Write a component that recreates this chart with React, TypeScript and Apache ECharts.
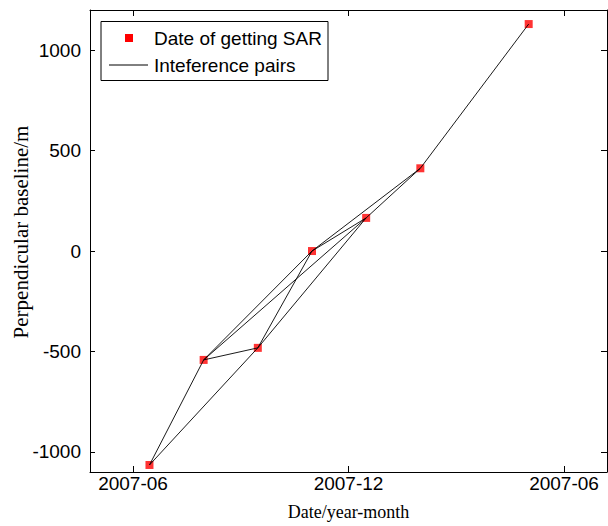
import React, { useEffect, useRef } from 'react';
import * as echarts from 'echarts';

// SAR acquisition dates and perpendicular baselines (m)
const acquisitionDates = ['2007-06-15', '2007-07-31', '2007-09-15', '2007-10-31', '2007-12-16', '2008-01-31', '2008-05-02'];
const perpendicularBaselines = [-1065, -542, -482, 0, 165, 412, 1130];
// interference pairs: indices into the acquisitions
const interferencePairs = [
  [0, 1], [0, 2], [1, 2], [1, 3], [1, 4], [2, 3], [2, 4], [3, 4], [3, 5], [4, 5], [5, 6],
];
const xTickDates = ['2007-06-01', '2007-12-01', '2008-06-01'];
const xTickLabels = ['2007-06', '2007-12', '2007-06'];
const yTickValues = [-1000, -500, 0, 500, 1000];
const xRange = ['2007-04-25T12:00:00Z', '2008-07-07T12:00:00Z'];
const yRange = [-1100, 1200];
const legendNames = ['Date of getting SAR', 'Inteference pairs'];
const xAxisTitle = 'Date/year-month';
const yAxisTitle = 'Perpendicular baseline/m';

const t = (s: string) => Date.parse(s);

export default function App() {
  const ref = useRef<HTMLDivElement>(null);
  useEffect(() => {
    if (!ref.current) return;
    const chart = echarts.init(ref.current, null, { renderer: 'svg' });
    const xTickVals = xTickDates.map(t);
    const pts = acquisitionDates.map((d, i) => [t(d), perpendicularBaselines[i]]);
    const sans = '"Liberation Sans", Arial, Helvetica, sans-serif';
    const serif = '"Liberation Serif", "Times New Roman", serif';
    const xMin = t(xRange[0]);
    const xMax = t(xRange[1]);
    const axisCommon = {
      axisLine: { show: true, onZero: false, lineStyle: { color: '#000', width: 1 } },
      splitLine: { show: false },
    };
    chart.setOption({
      animation: false,
      backgroundColor: '#fff',
      grid: { left: 90, right: 1, top: 10, bottom: 48, containLabel: false },
      xAxis: [
        {
          type: 'value',
          min: xMin,
          max: xMax,
          position: 'bottom',
          ...axisCommon,
          axisTick: { show: true, inside: true, length: 6, customValues: xTickVals, lineStyle: { color: '#000' } },
          axisLabel: {
            show: true,
            customValues: xTickVals,
            margin: 2,
            color: '#000',
            fontFamily: sans,
            fontSize: 19,
            formatter: (v: number) => {
              const i = xTickVals.indexOf(v);
              return i >= 0 ? xTickLabels[i] : '';
            },
          },
          name: xAxisTitle,
          nameLocation: 'middle',
          nameGap: 31,
          nameTextStyle: { color: '#000', fontFamily: serif, fontSize: 18 },
        },
        {
          type: 'value',
          min: xMin,
          max: xMax,
          position: 'top',
          ...axisCommon,
          axisTick: { show: true, inside: true, length: 6, customValues: xTickVals, lineStyle: { color: '#000' } },
          axisLabel: { show: false },
        },
      ],
      yAxis: [
        {
          type: 'value',
          min: yRange[0],
          max: yRange[1],
          position: 'left',
          ...axisCommon,
          axisTick: { show: true, inside: true, length: 5, customValues: yTickValues, lineStyle: { color: '#000' } },
          axisLabel: {
            show: true,
            customValues: yTickValues,
            margin: 9,
            color: '#000',
            fontFamily: sans,
            fontSize: 19,
            formatter: (v: number) => String(v),
          },
        },
        {
          type: 'value',
          min: yRange[0],
          max: yRange[1],
          position: 'right',
          ...axisCommon,
          axisTick: { show: true, inside: true, length: 6, customValues: yTickValues, lineStyle: { color: '#000' } },
          axisLabel: { show: false },
        },
      ],
      series: [
        {
          name: legendNames[0],
          type: 'scatter',
          symbol: 'rect',
          symbolSize: 8,
          itemStyle: { color: '#ff0000' },
          data: pts,
          z: 2,
        },
        {
          name: legendNames[1],
          type: 'lines',
          coordinateSystem: 'cartesian2d',
          polyline: false,
          lineStyle: { color: '#000', width: 0.9, opacity: 1 },
          data: interferencePairs.map(([a, b]) => ({ coords: [pts[a], pts[b]] })),
          z: 3,
        },
      ],
      graphic: [
        {
          type: 'text',
          x: 21,
          y: 232,
          rotation: Math.PI / 2,
          style: { text: yAxisTitle, fill: '#000', font: `21px ${serif}`, align: 'center', verticalAlign: 'middle' },
        },
        {
          type: 'group',
          z: 100,
          children: [
            { type: 'rect', shape: { x: 101, y: 21.5, width: 227, height: 59 }, style: { fill: '#fff', stroke: '#000', lineWidth: 1 } },
            { type: 'rect', shape: { x: 125, y: 34, width: 8, height: 8 }, style: { fill: '#ff0000' } },
            { type: 'line', shape: { x1: 109, y1: 65, x2: 148, y2: 65 }, style: { stroke: '#000', lineWidth: 1 } },
            {
              type: 'text',
              x: 154,
              y: 38.5,
              style: { text: legendNames[0], fill: '#000', font: `19px ${sans}`, verticalAlign: 'middle', align: 'left' },
            },
            {
              type: 'text',
              x: 154,
              y: 65,
              style: { text: legendNames[1], fill: '#000', font: `19px ${sans}`, verticalAlign: 'middle', align: 'left' },
            },
          ],
        },
      ],
    });
    return () => chart.dispose();
  }, []);
  return <div ref={ref} style={{ position: 'absolute', left: 0, top: 0, width: 608, height: 526, background: '#fff' }} />;
}
